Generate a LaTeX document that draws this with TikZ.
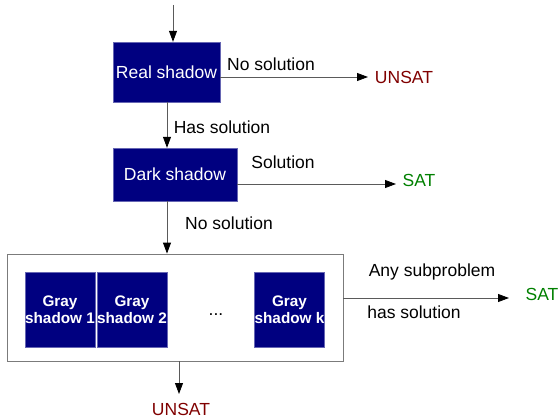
\documentclass[tikz,border=0pt]{standalone}
\usepackage{fontspec}
\setmainfont{Liberation Sans}
\usepackage{xcolor}
\usepackage{tikz}
\usetikzlibrary{arrows.meta}
\definecolor{boxblue}{RGB}{0,0,128}
\definecolor{unsatred}{RGB}{128,0,0}
\definecolor{satgreen}{RGB}{0,128,0}
\definecolor{wire}{RGB}{90,90,90}

\begin{document}
\begin{tikzpicture}[x=1pt, y=-1pt,
  shadowbox/.style={draw=boxblue!60!white, fill=boxblue, text=white, inner sep=0pt,
    font=\fontsize{17.5}{20}\selectfont},
  graybox/.style={shadowbox, minimum width=70, minimum height=75, align=center,
    font=\bfseries\fontsize{15.3}{17.5}\selectfont},
  lbl/.style={inner sep=0pt, font=\fontsize{17.5}{20}\selectfont},
  arr/.style={draw=wire, line width=0.8pt, -{Triangle[length=11pt,width=8pt,color=black]}}]
\useasboundingbox (0, 0) rectangle (560, 420);

\node[shadowbox, minimum width=107, minimum height=60] (real) at (166.5, 72) {Real shadow};
\node[shadowbox, minimum width=124, minimum height=53] (dark) at (175, 174.5) {Dark shadow};
\node[draw=wire!80, line width=0.8pt, fill=white, minimum width=336, minimum height=107] (gray) at (175, 307.5) {};
\node[graybox] (g1) at (60, 309.5) {Gray\\shadow 1};
\node[graybox] (g2) at (132, 309.5) {Gray\\shadow 2};
\node[graybox] (gk) at (289.5, 309.5) {Gray\\shadow k};
\node[lbl] (dots) at (216, 315) {...};

\node[lbl, text=unsatred] (unsat1) at (404, 77) {UNSAT};
\node[lbl, text=satgreen] (sat1) at (419, 180) {SAT};
\node[lbl, text=satgreen] (sat2) at (542, 294) {SAT};
\node[lbl, text=unsatred] (unsat2) at (181, 409) {UNSAT};

\node[lbl] (nosol1) at (271, 64) {No solution};
\node[lbl] (hassol) at (222, 127) {Has solution};
\node[lbl] (sol) at (283, 162) {Solution};
\node[lbl] (nosol2) at (229, 223) {No solution};
\node[lbl] (anysub) at (432, 272) {Any subproblem};
\node[lbl] (hassub) at (414, 312) {has solution};

\coordinate (start) at (173, 5);
\coordinate (e1) at (368, 77);
\coordinate (e2) at (396, 184);
\coordinate (e3) at (509, 298);
\coordinate (e4) at (179, 394);

\draw[arr] (start) -- (start |- real.north);
\draw[arr] (real.east |- e1) -- (e1);
\draw[arr] (real.south -| 167, 0) -- (dark.north -| 167, 0);
\draw[arr] (dark.east |- e2) -- (e2);
\draw[arr] (dark.south -| 167, 0) -- (gray.north -| 167, 0);
\draw[arr] (gray.east |- e3) -- (e3);
\draw[arr] (gray.south -| e4) -- (e4);
\end{tikzpicture}
\end{document}
